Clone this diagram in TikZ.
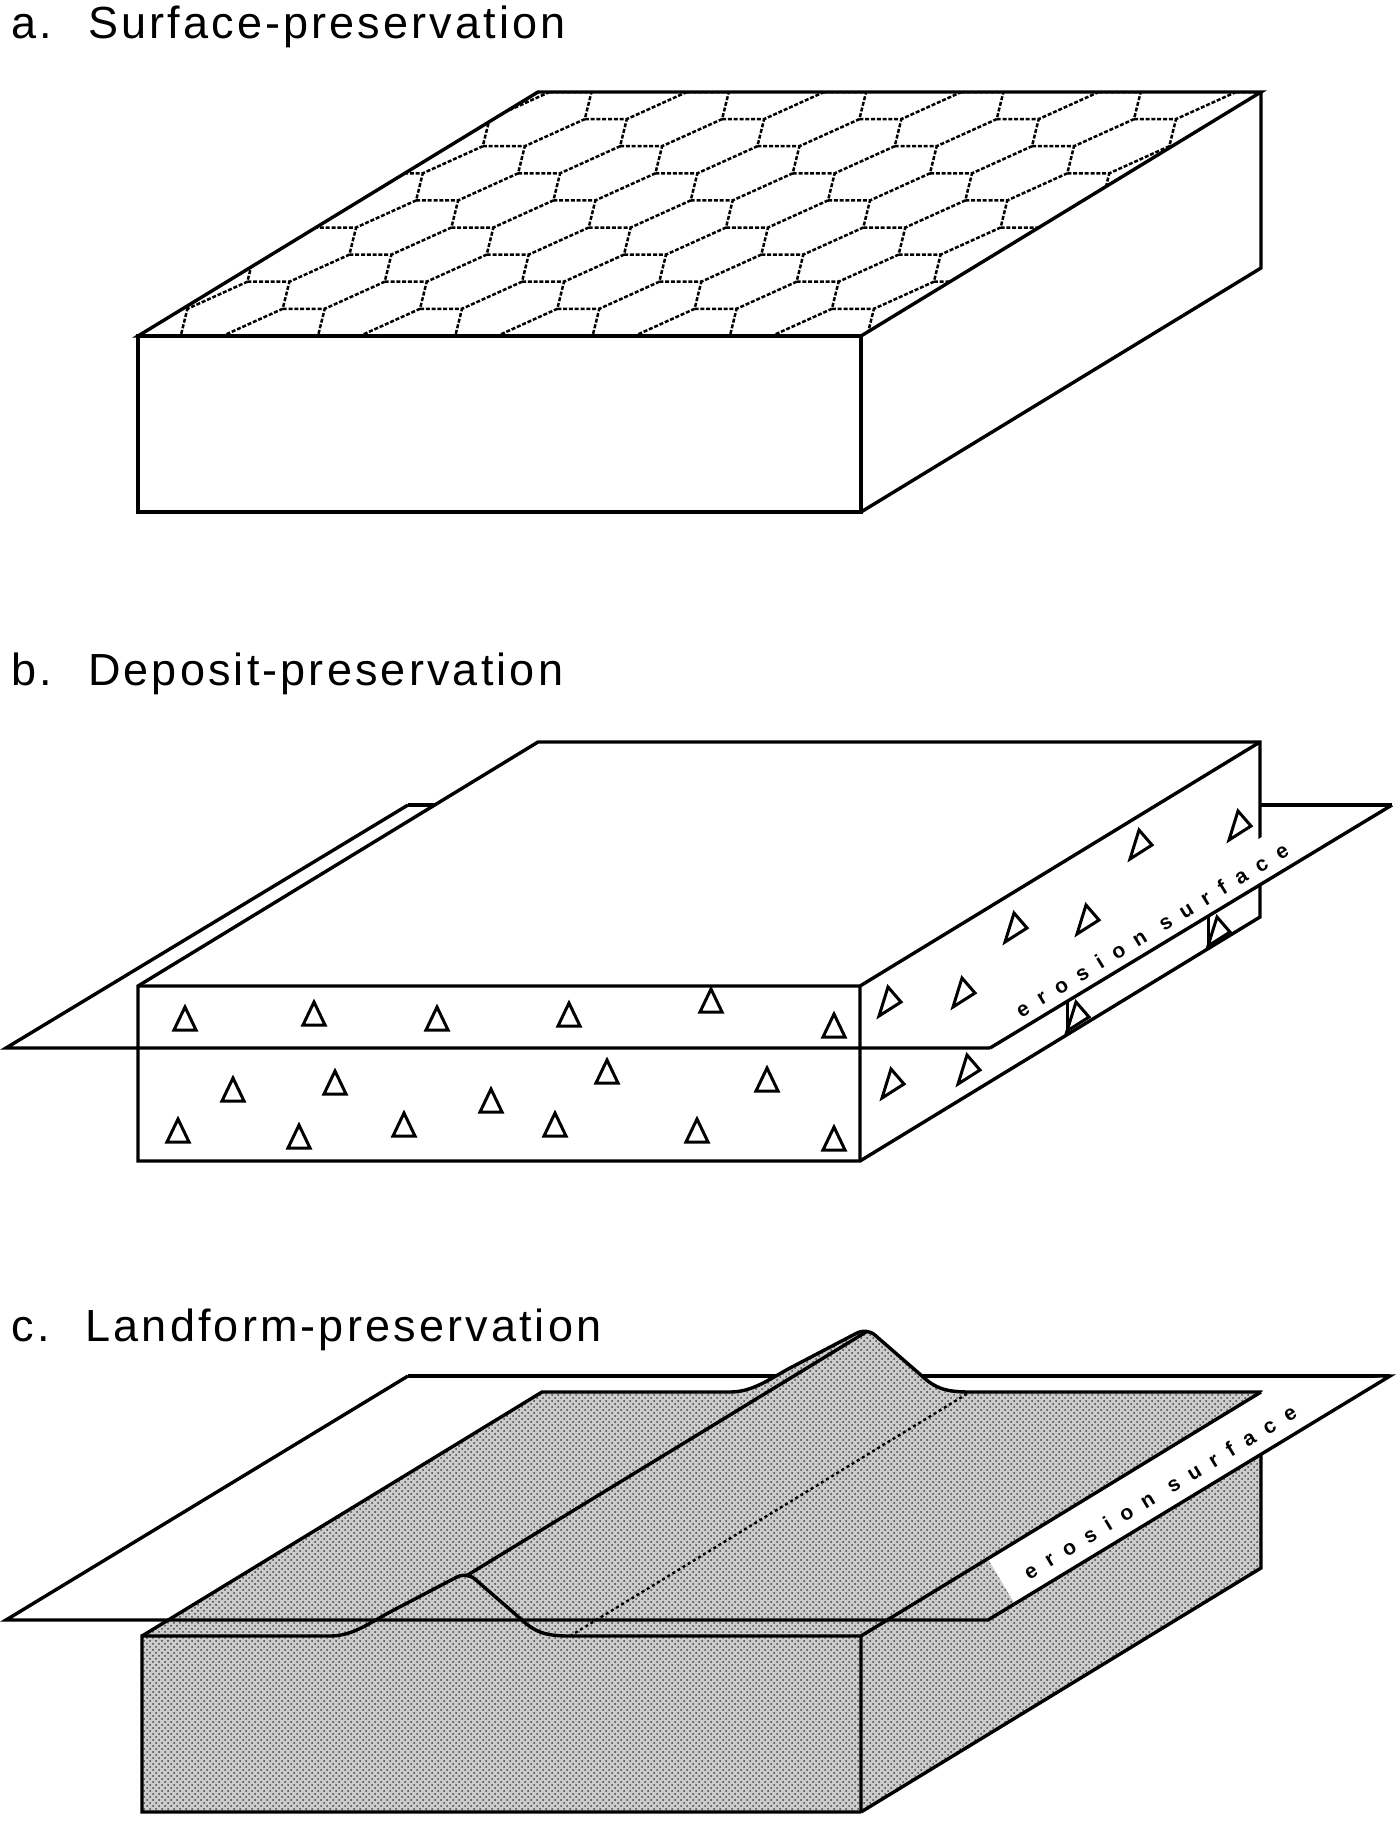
\documentclass[tikz,border=0pt]{standalone}
\usepackage{fontspec}
\setmainfont{Liberation Sans}
\newfontfamily\titlefont{Liberation Sans}[LetterSpace=7]
\newfontfamily\surfacefont{Liberation Sans}[LetterSpace=58]
\usetikzlibrary{patterns}

\begin{document}
\begin{tikzpicture}[
    x=0.5pt, y=-0.5pt,
    edge/.style={line width=1.7pt, line join=miter},
    hexline/.style={line width=1.25pt, dash pattern=on 2pt off 0.9pt},
    footline/.style={line width=1.2pt, dash pattern=on 1.5pt off 1.5pt},
    clast/.style={line width=1.5pt, line join=miter},
    soil/.style={fill=black!20},
    stipple/.style={pattern=crosshatch dots, pattern color=black!75},
    title/.style={anchor=base west, inner sep=0pt, font=\titlefont\fontsize{22.5}{27}\selectfont},
    surface/.style={inner sep=0pt, rotate=31.3, font=\surfacefont\bfseries\fontsize{10.5}{12}\selectfont}
  ]
  \useasboundingbox (0,0) rectangle (1400,1821);

  % a. Surface-preservation
  \node[title] (titleA) at (11,38) {a.\hspace{0.8em}Surface-preservation};
  \coordinate (aFTL) at (138,336);
  \coordinate (aFTR) at (861,336);
  \coordinate (aFBR) at (861,512);
  \coordinate (aBTL) at (538,92);
  \coordinate (aBTR) at (1261,92);
  \coordinate (aBBR) at (1261,268);
  \begin{scope}
    \clip (aFTL) -- (aFTR) -- (aBTR) -- (aBTL) -- cycle;
    \foreach \i in {-3,...,6}
      \foreach \k in {-9,...,3}
        \draw[hexline] ({1032+35.3*\i+137.3*\k},{146.2+27.1*\i}) -- ++(42,0) -- ++(-6.7,27.1) -- ++(-60,27.1);
  \end{scope}
  \draw[edge] (aFTL) -- (aBTL) -- (aBTR) -- (aFTR) -- cycle;
  \draw[edge] (aFTL) rectangle (aFBR);
  \draw[edge] (aBTR) -- (aBBR) -- (aFBR);

  % b. Deposit-preservation
  \node[title] (titleB) at (11,685) {b.\hspace{0.8em}Deposit-preservation};
  \coordinate (bFTL) at (138,986);
  \coordinate (bFTR) at (860,986);
  \coordinate (bFBL) at (138,1161);
  \coordinate (bFBR) at (860,1161);
  \coordinate (bBTL) at (538,742);
  \coordinate (bBTR) at (1260,742);
  \coordinate (bBBR) at (1260,917);
  \coordinate (bPFL) at (6,1048);
  \coordinate (bPFR) at (990,1048);
  \coordinate (bPBL) at (408,805);
  \coordinate (bPBR) at (1392,805);
  \draw[edge] (bPBL) -- (bPBR);
  \draw[edge, fill=white] (bFBL) -- (bFTL) -- (bBTL) -- (bBTR) -- (bBBR) -- (bFBR) -- cycle;
  \draw[edge] (bFTL) -- (bFTR) -- (bFBR) (bFTR) -- (bBTR);
  \foreach \x/\y in {185/1022, 314/1017, 437/1022, 569/1018, 711/1004, 834/1029,
                     233/1093, 335/1086, 491/1104, 607/1075, 767/1083,
                     178/1134, 299/1140, 404/1128, 555/1128, 697/1134, 834/1142}
    \draw[clast] ({\x-11},{\y+8}) -- ({\x+11},{\y+8}) -- (\x,{\y-15}) -- cycle;
  \foreach \x/\y in {889/1002, 963/993, 1015/928, 1087/920, 1140/845, 1239/826,
                     892/1084, 968/1070}
    \draw[clast] ({\x-10},{\y+14}) -- ({\x+12},\y) -- ({\x-1},{\y-15}) -- cycle;
  \draw[edge] (bPBL) -- (bPFL) -- (bPFR);
  \fill[white] (992,1046) -- (1332,841.5) -- (1311,807.5) -- (971,1012) -- cycle;
  \draw[edge] (bPFR) -- (bPBR);
  \foreach \x/\top/\bot in {1067/1001.5/1035, 1208/916/950} {
    \draw[clast] (\x,\top) -- (\x,\bot);
    \draw[clast] (\x,{\bot-4}) -- ({\x+22},{\bot-18}) -- ({\x+9},{\bot-33}) -- cycle;
  }
  \node[surface] (surfaceB) at (1152,930) {erosion surface};

  % c. Landform-preservation
  \node[title] (titleC) at (11,1341) {c.\hspace{0.8em}Landform-preservation};
  \coordinate (cFTL) at (142,1636);
  \coordinate (cFTR) at (861,1636);
  \coordinate (cFBL) at (142,1812);
  \coordinate (cFBR) at (861,1812);
  \coordinate (cBTL) at (542,1392);
  \coordinate (cBTR) at (1261,1392);
  \coordinate (cBBR) at (1261,1568);
  \coordinate (cPFL) at (6,1620);
  \coordinate (cPFR) at (988,1620);
  \coordinate (cPBL) at (408,1376);
  \coordinate (cPBR) at (1390,1376);
  \draw[edge] (cPBL) -- (cPBR);
  \foreach \look in {soil, stipple}
    \fill[\look] (cFBL) -- (cFTL) -- (cBTL) -- (730,1392)
      .. controls (752,1392) and (768,1380) .. (790,1368) -- (855,1334)
      .. controls (862,1330) and (870,1330) .. (876,1336) -- (922,1376)
      .. controls (935,1388) and (945,1392) .. (970,1392) -- (cBTR) -- (cBBR) -- (cFBR) -- cycle;
  \draw[edge] (cFBR) -- (cFBL) -- (cFTL) -- (330,1636)
    .. controls (352,1636) and (368,1624) .. (390,1612) -- (455,1578)
    .. controls (462,1574) and (470,1574) .. (476,1580) -- (522,1620)
    .. controls (535,1632) and (545,1636) .. (570,1636) -- (cFTR) -- (cFBR);
  \draw[edge] (cFTL) -- (cBTL) -- (730,1392)
    .. controls (752,1392) and (768,1380) .. (790,1368) -- (855,1334)
    .. controls (862,1330) and (870,1330) .. (876,1336) -- (922,1376)
    .. controls (935,1388) and (945,1392) .. (970,1392) -- (cBTR) -- (cBBR) -- (cFBR);
  \draw[edge] (466,1576) -- (866,1332);
  \draw[footline] (570,1636) -- (970,1392);
  \fill[white] (988,1559) -- (1261,1392) -- (1390,1376) -- (1015,1604) -- cycle;
  \draw[edge] (cFTR) -- (cBTR);
  \draw[edge] (cPBL) -- (cPFL) -- (cPFR) -- (cPBR) -- (1250,1376);
  \node[surface] (surfaceC) at (1160,1492) {erosion surface};
\end{tikzpicture}
\end{document}
